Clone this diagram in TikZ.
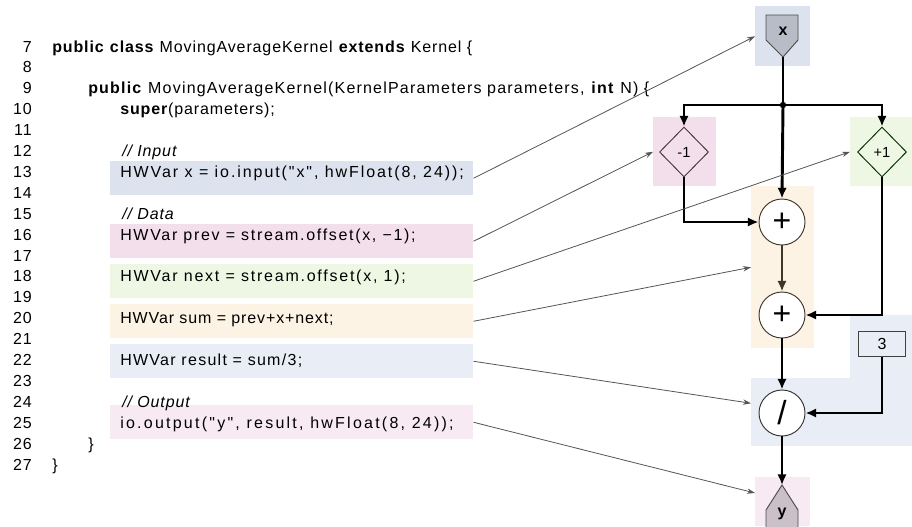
\documentclass[tikz,border=0pt]{standalone}
\usepackage{fontspec}
\setmainfont{Liberation Sans}
\newfontfamily\codefont[LetterSpace=5.5]{Liberation Sans}
\usetikzlibrary{arrows.meta, positioning, shapes.geometric, calc}

\definecolor{inblue}{HTML}{DCE3EE}
\definecolor{resblue}{HTML}{E9EEF6}
\definecolor{prevpink}{HTML}{F3DFEB}
\definecolor{outpink}{HTML}{F7EAF3}
\definecolor{nextgreen}{HTML}{EEF7E3}
\definecolor{sumorange}{HTML}{FDF3E4}
\definecolor{xgray}{HTML}{B7BCC6}
\definecolor{ygray}{HTML}{CBBFC8}
\definecolor{opbrown}{HTML}{3E352B}
\definecolor{wiregray}{HTML}{555555}

\tikzset{
    lineno/.style={anchor=base east, inner sep=0pt, font=\codefont\fontsize{12}{14}\selectfont},
    codeline/.style={anchor=base west, inner sep=0pt, font=\codefont\fontsize{12}{14}\selectfont},
    spaced/.style={font=\codefont\addfontfeature{LetterSpace=#1}\fontsize{12}{14}\selectfont},
    hilite/.style={rectangle, anchor=north west, inner sep=0pt,
                   minimum width=272.25pt, minimum height=25.5pt},
    panel/.style={rectangle, anchor=north west, inner sep=0pt},
    offsetop/.style={diamond, draw, aspect=1, inner sep=0pt, minimum width=36.75pt,
                     minimum height=37.5pt, line width=0.7pt, font=\fontsize{11}{11}\selectfont},
    arithop/.style={circle, draw=opbrown, fill=white, line width=0.7pt, inner sep=0pt,
                    minimum size=34.5pt},
    constbox/.style={rectangle, draw=black!75, fill=resblue, line width=0.7pt, inner sep=0pt,
                     minimum width=35.25pt, minimum height=18.75pt, font=\fontsize{12}{12}\selectfont},
    wire/.style={line width=2.2pt, -{Latex[length=8pt,width=7pt]}},
    link/.style={draw=wiregray, line width=0.6pt, -{Stealth[length=6pt,width=4pt]}}
}

\begin{document}
\begin{tikzpicture}[x=0.75pt, y=-0.75pt]
    \useasboundingbox (0,0) rectangle (912,526);

    % highlighted source lines
    \node[hilite, fill=inblue] (hl13) at (110,161) {};
    \node[hilite, fill=prevpink] (hl16) at (110,224) {};
    \node[hilite, fill=nextgreen] (hl18) at (110,264) {};
    \node[hilite, fill=sumorange] (hl20) at (110,304) {};
    \node[hilite, fill=resblue] (hl22) at (110,344) {};
    \node[hilite, fill=outpink] (hl25) at (110,405) {};

    % line numbers
    \foreach \n in {7,...,27}
        \node[lineno] (ln\n) at (32, {52+(\n-7)*20.9}) {\n};

    % source text
    \node[codeline] (src7) at (52, 52) {\textbf{public} \textbf{class} MovingAverageKernel \textbf{extends} Kernel \{};
    \node[codeline, spaced=7.5] (src9) at (88, {52+2*20.9}) {\textbf{public} MovingAverageKernel(KernelParameters parameters, \textbf{int} N) \{};
    \node[codeline] (src10) at (120, {52+3*20.9}) {\textbf{super}(parameters);};
    \node[codeline] (src12) at (122, {52+5*20.9}) {\textit{// Input}};
    \node[codeline, spaced=12] (src13) at (120, {52+6*20.9}) {HWVar x = io.input("x", hwFloat(8, 24));};
    \node[codeline] (src15) at (122, {52+8*20.9}) {\textit{// Data}};
    \node[codeline, spaced=10.5] (src16) at (120, {52+9*20.9}) {HWVar prev = stream.offset(x, −1);};
    \node[codeline, spaced=11] (src18) at (120, {52+11*20.9}) {HWVar next = stream.offset(x, 1);};
    \node[codeline] (src20) at (120, {52+13*20.9}) {HWVar sum = prev+x+next;};
    \node[codeline, spaced=8] (src22) at (120, {52+15*20.9}) {HWVar result = sum/3;};
    \node[codeline] (src24) at (122, {52+17*20.9}) {\textit{// Output}};
    \node[codeline, spaced=14] (src25) at (120, {52+18*20.9}) {io.output("y", result, hwFloat(8, 24));};
    \node[codeline] (src26) at (88, {52+19*20.9}) {\}};
    \node[codeline] (src27) at (52, {52+20*20.9}) {\}};

    % panels behind the dataflow graph
    \node[panel, fill=inblue, minimum width=41.25pt, minimum height=45pt] (xbg) at (755,6) {};
    \node[panel, fill=prevpink, minimum width=47.25pt, minimum height=51.75pt] (negbg) at (653,117) {};
    \node[panel, fill=nextgreen, minimum width=46.5pt, minimum height=51.75pt] (posbg) at (850,117) {};
    \node[panel, fill=sumorange, minimum width=47.25pt, minimum height=121.5pt] (sumbg) at (751,186) {};
    \node[panel, fill=resblue, minimum width=120.75pt, minimum height=51pt] (divbg) at (751,378) {};
    \node[panel, fill=resblue, minimum width=46.5pt, minimum height=47.25pt] (constbg) at (850,315) {};
    \node[panel, fill=outpink, minimum width=41.25pt, minimum height=36.75pt] (ybg) at (755,477) {};

    % input and output ports
    \filldraw[fill=xgray, draw=black!70, line width=0.7pt]
        (766,15) -- (798,15) -- (798,40) -- (783,57) -- (766,40) -- cycle;
    \node[font=\bfseries\fontsize{12}{12}\selectfont] (xin) at (783,31) {x};
    \coordinate (xtip) at (783,57);
    \filldraw[fill=ygray, draw=black!70, line width=0.7pt]
        (766,530) -- (766,510) -- (782,485) -- (798,510) -- (798,530);
    \node[font=\bfseries\fontsize{12}{12}\selectfont] (yout) at (782,514) {y};
    \coordinate (ytip) at (782,485);
    \coordinate (yin) at (755,493);

    % operators
    \node[offsetop, draw=black!75!magenta!60!black] (neg) at (684,152) {-1};
    \node[offsetop, draw=black!70!green!60!black] (pos) at (882,152) {+1};
    \node[arithop, font=\fontsize{24}{24}\selectfont] (add1) at (782,222) {+};
    \node[arithop, font=\fontsize{24}{24}\selectfont] (add2) at (782,315) {+};
    \node[arithop, draw=black!80, font=\fontsize{25}{25}\selectfont] (div) at (782,413) {/};
    \node[constbox] (three) at (882,344) {3};

    % dataflow wires
    \fill (783,105) circle (3.2) coordinate (split);
    \draw[line width=2.2pt] (xtip) -- (split);
    \draw[wire] (split) -| (neg.north);
    \draw[wire] (split) -| (pos.north);
    \draw[wire] (split) -- (add1.north);
    \draw[wire] (neg.south) |- (add1.west);
    \draw[wire] (pos.south) |- (add2.east);
    \draw[wire, draw=opbrown, fill=opbrown, line width=1.6pt] (add1.south) -- (add2.north);
    \draw[wire] (add2.south) -- (div.north);
    \draw[wire] (three.south) |- (div.east);
    \draw[wire] (div.south) -- (ytip);

    % source lines to hardware
    \draw[link] (hl13.east) -- (xbg.west);
    \draw[link] (hl16.east) -- (negbg.west);
    \draw[link] (hl18.east) -- (posbg.west);
    \draw[link] (hl20.east) -- (sumbg.west);
    \draw[link] (hl22.east) -- ($(divbg.west)+(0,-9)$);
    \draw[link] (hl25.east) -- (yin);
\end{tikzpicture}
\end{document}
